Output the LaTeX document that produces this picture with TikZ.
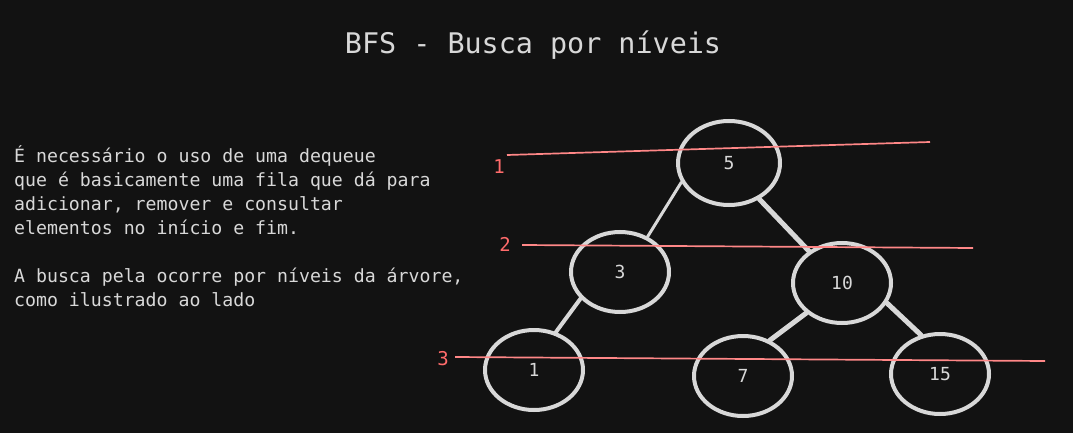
\documentclass[tikz,border=0pt]{standalone}
\usepackage{fontspec}
\setmonofont{DejaVu Sans Mono}
\usetikzlibrary{shapes.geometric}
\definecolor{bg}{HTML}{121212}
\definecolor{ink}{HTML}{D8D8D8}
\definecolor{redline}{HTML}{FF8787}
\definecolor{redtxt}{HTML}{FF6B6B}
\tikzset{
    chave/.style={ellipse,draw=ink,line width=4pt,minimum width=98pt,minimum height=80pt,inner sep=0pt,text=ink,font=\ttfamily\fontsize{18}{18}\selectfont},
    ramo/.style={draw=ink,line width=4pt,line cap=round},
    nivel/.style={redline,line width=1.7pt},
    rotulo/.style={text=redtxt,inner sep=0pt,font=\ttfamily\fontsize{19}{19}\selectfont},
    texto/.style={text=ink,anchor=base west,inner sep=0pt,font=\ttfamily\fontsize{18.2}{24}\selectfont}
}

\begin{document}
\begin{tikzpicture}[x=1pt,y=-1pt]
    \fill[bg] (0,0) rectangle (1073,433);
    \useasboundingbox (0,0) rectangle (1073,433);

    \node [text=ink,anchor=base,inner sep=0pt,font=\ttfamily\fontsize{28.4}{28}\selectfont] (titulo) at (533,54) {BFS - Busca por níveis};

    \foreach \linha/\y [count=\i] in {
        {É necessário o uso de uma dequeue}/162,
        {que é basicamente uma fila que dá para}/186,
        {adicionar, remover e consultar}/210,
        {elementos no início e fim.}/234,
        {A busca pela ocorre por níveis da árvore,}/282,
        {como ilustrado ao lado}/306} {
        \node [texto] (linha\i) at (14,\y) {\linha};
    }

    % arvore
    \node [chave,minimum width=102pt,minimum height=84pt] (n5) at (729,163) {5};
    \node [chave] (n3) at (620,272) {3};
    \node [chave] (n10) at (842,283) {10};
    \node [chave] (n1) at (534,370) {1};
    \node [chave] (n7) at (743,376) {7};
    \node [chave] (n15) at (940,374) {15};

    \draw [ramo,line width=3pt] (n5.202) -- (n3.52);
    \draw [ramo,line width=5pt] (n5.310) -- (n10.136);
    \draw [ramo] (n3.214) -- (n1.60);
    \draw [ramo,line width=5pt] (n10.220) -- (n7.53);
    \draw [ramo,line width=5pt] (n10.336) -- (n15.116);

    % niveis
    \foreach \i/\xa/\ya/\xb/\yb/\xl/\yl in {1/507/155/930/142/499/167,
                                          2/522/245/973/248/505/244,
                                          3/455/357/1045/361/443/359} {
        \coordinate (ini\i) at (\xa,\ya);
        \coordinate (fim\i) at (\xb,\yb);
        \draw [nivel] (ini\i) -- (fim\i);
        \node [rotulo] (nivel\i) at (\xl,\yl) {\i};
    }
\end{tikzpicture}
\end{document}
